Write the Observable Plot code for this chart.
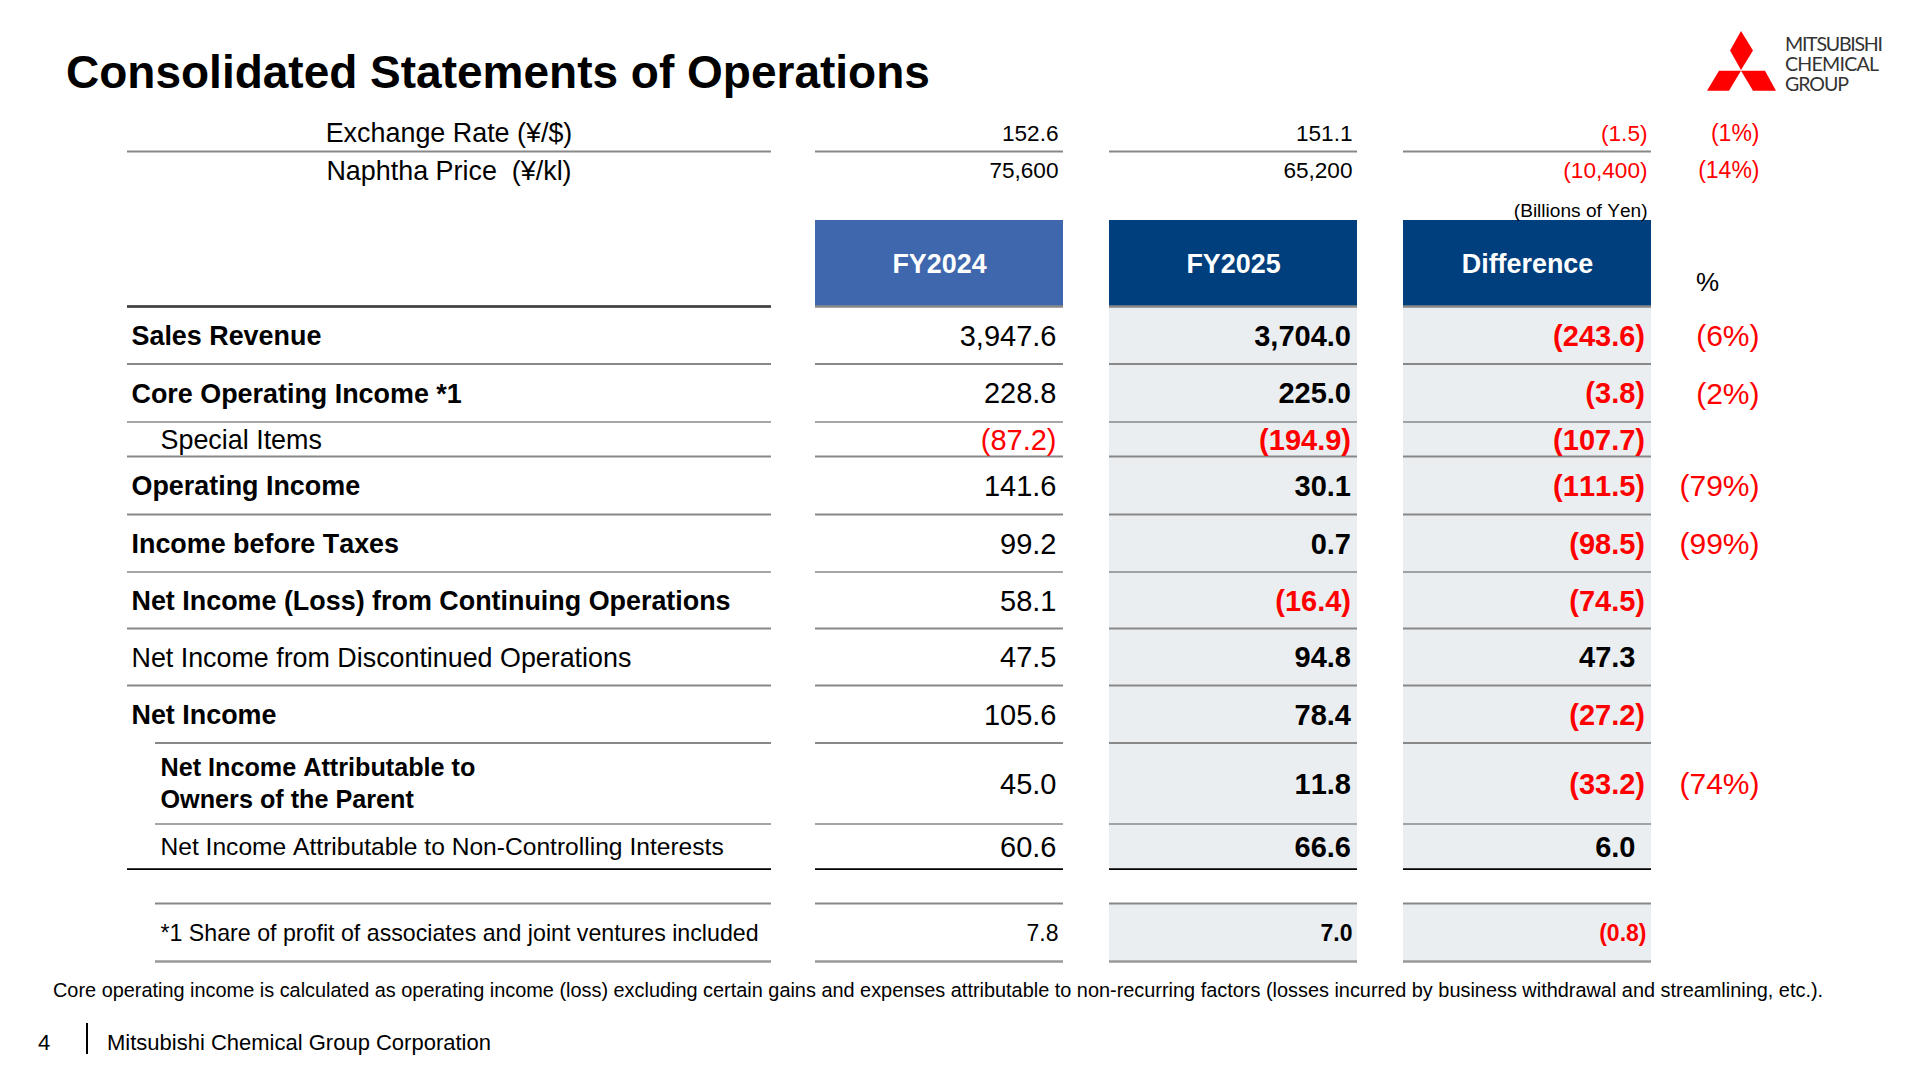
<!DOCTYPE html>
<html><head><meta charset="utf-8">
<script src="https://cdn.jsdelivr.net/npm/d3@7"></script>
<script src="https://cdn.jsdelivr.net/npm/@observablehq/plot@0.6"></script>
<style>
html,body{margin:0;padding:0;background:#fff;width:1920px;overflow:hidden}
body{font-family:"Liberation Sans",Arial,sans-serif;color:#000;font-kerning:none}
#head{position:relative;height:115px;width:1920px}
#head h1{position:absolute;left:66px;top:43.5px;margin:0;font-size:46px;line-height:56px;font-weight:700;white-space:nowrap}
#head svg{position:absolute;left:0;top:0}
#foot{position:relative;height:115px;width:1920px}
#note{position:absolute;left:53px;top:13px;font-size:19.9px;line-height:24px;white-space:nowrap}
#page{position:absolute;left:38px;top:65px;font-size:22px;line-height:26px}
#bar{position:absolute;left:86px;top:58px;width:2px;height:31px;background:#000}
#org{position:absolute;left:107px;top:65px;font-size:22px;line-height:26px;white-space:nowrap}
svg text{white-space:pre;font-kerning:none}
</style></head>
<body>
<div id="head">
<h1>Consolidated Statements of Operations</h1>
<svg width="1920" height="115" aria-label="logo">
<g fill="#ff0000"><polygon points="1741,31 1753,50.5 1741,70 1730,50.5"/><polygon points="1719,70.7 1741,70.7 1729,90.7 1707,90.7"/><polygon points="1741,70.7 1765,70.7 1776,90.7 1753,90.7"/></g>
<g fill="#333" font-family="Lato" font-size="19.6"><text x="1785" y="51" textLength="98">MITSUBISHI</text><text x="1785" y="71" textLength="94">CHEMICAL</text><text x="1785" y="91" textLength="64">GROUP</text></g>
</svg>
</div>
<div id="chart"></div>
<div id="foot">
<div id="note">Core operating income is calculated as operating income (loss) excluding certain gains and expenses attributable to non-recurring factors (losses incurred by business withdrawal and streamlining, etc.).</div>
<div id="page">4</div><div id="bar"></div>
<div id="org">Mitsubishi Chemical Group Corporation</div>
</div>
<script>
// ---- data ----
const columns = ["FY2024", "FY2025", "Difference"];
const marketLabels = ["Exchange Rate (¥/$)", "Naphtha Price  (¥/kl)"];
const market2024 = [152.6, 75600];
const market2025 = [151.1, 65200];
const marketDiff = [-1.5, -10400];
const marketPct = [-1, -14];

const rowLabels = [
  "Sales Revenue", "Core Operating Income *1", "Special Items", "Operating Income",
  "Income before Taxes", "Net Income (Loss) from Continuing Operations",
  "Net Income from Discontinued Operations", "Net Income",
  "Net Income Attributable to\nOwners of the Parent",
  "Net Income Attributable to Non-Controlling Interests"
];
const boldRows = [0, 1, 3, 4, 5, 7];
const plainRows = [6];
const fy2024 = [3947.6, 228.8, -87.2, 141.6, 99.2, 58.1, 47.5, 105.6, 45.0, 60.6];
const fy2025 = [3704.0, 225.0, -194.9, 30.1, 0.7, -16.4, 94.8, 78.4, 11.8, 66.6];
const difference = [-243.6, -3.8, -107.7, -111.5, -98.5, -74.5, 47.3, -27.2, -33.2, 6.0];
const percent = [-6, -2, null, -79, -99, null, null, null, -74, null];

const noteLabel = "*1 Share of profit of associates and joint ventures included";
const noteValues = [7.8, 7.0, -0.8];

// ---- layout: piecewise scales; domain = edge index, range = pixels ----
const xEdges = [127, 155, 771, 815, 1063, 1109, 1357, 1403, 1651, 1759];
const yEdges = [0, 36, 75, 86, 105, 191, 248.5, 306.5, 341, 399, 456.5, 513, 570, 627.5, 708.5, 753.6, 788, 846];
const svgHeight = 850;

const RED = "#ff0000", BLUE = "#003f7d", MID = "#3e67ad", PALE = "#ebeef1", GREY = "#888888";
const parens = (d, s) => (d < 0 ? `(${s})` : s);
const f1 = (d) => parens(d, d3.format(",.1f")(Math.abs(d)));
const marketFmt = (d) => parens(d, d3.format(Number.isInteger(d) ? ",d" : ",.1f")(Math.abs(d)));
const pctFmt = (d) => (d < 0 ? `(${-d}%)` : `${d}%`);
const ink = (d) => (d < 0 ? RED : "#000");
const rowMid = (i) => 5.5 + i;
const spans = [[0, 2], [3, 4], [5, 6], [7, 8]];

function ruleAt(y, from, stroke, strokeWidth, cols = spans) {
  const data = cols.map(([a, b], k) => ({ a: k === 0 ? from : a, b, y }));
  return Plot.ruleY(data, { y: "y", x1: "a", x2: "b", stroke, strokeWidth });
}
function values(list, x, dx, opts = {}) {
  const rows = list.map((v, i) => ({ v, i })).filter((d) => d.v != null);
  return Plot.text(rows, {
    x: () => x, y: (d) => rowMid(d.i), text: (d) => f1(d.v), fill: (d) => ink(d.v),
    textAnchor: "end", dx, dy: 1, fontSize: 29, ...opts
  });
}
function small(list, fmtf, x, dx, fontSize = 22.6) {
  return Plot.text(list, {
    x: () => x, y: (d, i) => i + 0.5, text: fmtf, fill: ink, textAnchor: "end", dx, fontSize
  });
}
const label = (rows, x, dx, opts) =>
  Plot.text(rows, { x: () => x, y: rowMid, dx, dy: 1, text: (i) => rowLabels[i], textAnchor: "start", fill: "#000", ...opts });

const chart = Plot.plot({
  width: 1920, height: svgHeight, margin: 0,
  style: { fontFamily: '"Liberation Sans", Arial, sans-serif', background: "#fff", color: "#000" },
  x: { type: "linear", domain: d3.range(xEdges.length), range: xEdges, axis: null },
  y: { type: "linear", domain: d3.range(yEdges.length), range: yEdges, axis: null },
  color: { type: "identity" },
  marks: [
    // cell shading
    Plot.rect([5, 7], { x1: (d) => d, x2: (d) => d + 1, y1: () => 5, y2: () => 15, fill: PALE }),
    Plot.rect([5, 7], { x1: (d) => d, x2: (d) => d + 1, y1: () => 16, y2: () => 17, fill: PALE }),
    // column headers
    Plot.rect(columns, { x1: (d, i) => 3 + 2 * i, x2: (d, i) => 4 + 2 * i, y1: () => 4, y2: () => 5,
      fill: (d, i) => (i === 0 ? MID : BLUE) }),
    Plot.text(columns, { x: (d, i) => 3.5 + 2 * i, y: () => 4.5, dy: 1, text: (d) => d, fill: "#fff",
      fontSize: 26.9, fontWeight: "bold" }),
    Plot.text(["%"], { x: () => 9, y: () => 4.72, dx: -52, text: (d) => d, fontSize: 26, fill: "#000", textAnchor: "middle" }),
    Plot.text(["(Billions of Yen)"], { x: () => 8, y: () => 3.5, dx: -4, text: (d) => d, fontSize: 19.1, fill: "#000", textAnchor: "end" }),

    // rules
    ruleAt(1, 0, GREY, 1.8),
    ruleAt(5, 0, GREY, 2.5),
    Plot.ruleY([5], { x1: () => 0, x2: () => 2, stroke: "#404040", strokeWidth: 2.5 }),
    ruleAt(6, 0, GREY, 1.8), ruleAt(7, 0, GREY, 1.5), ruleAt(8, 0, GREY, 1.8),
    ruleAt(9, 0, GREY, 1.8), ruleAt(10, 0, GREY, 1.5), ruleAt(11, 0, GREY, 1.8),
    ruleAt(12, 0, GREY, 1.8), ruleAt(13, 1, GREY, 1.8), ruleAt(14, 1, GREY, 1.5),
    ruleAt(15, 0, "#000", 1.8), ruleAt(16, 1, GREY, 1.8), ruleAt(17, 1, "#999", 2.5),

    // market rows
    Plot.text(marketLabels, { x: () => 1, y: (d, i) => i + 0.5, dx: 293.5, text: (d) => d, fontSize: 26.9, fill: "#000" }),
    small(market2024, marketFmt, 4, -5),
    small(market2025, marketFmt, 6, -5),
    small(marketDiff, marketFmt, 8, -4),
    small(marketPct, pctFmt, 9, 0, 23),

    // row labels
    label(boldRows, 0, 4, { fontSize: 26.9, fontWeight: "bold" }),
    label(plainRows, 0, 4, { fontSize: 26.85 }),
    label([2], 1, 5, { fontSize: 26.9 }),
    label([8], 1, 5, { dy: -1.5, fontSize: 25.2, fontWeight: "bold", lineHeight: 1.27 }),
    label([9], 1, 5, { fontSize: 24.6 }),

    // main values
    values(fy2024, 4, -7),
    values(fy2025, 6, -6.5, { fontWeight: "bold" }),
    values(difference.map((d) => (d < 0 ? d : null)), 8, -6.5, { fontWeight: "bold" }),
    values(difference.map((d) => (d >= 0 ? d : null)), 8, -16, { fontWeight: "bold" }),
    values(percent, 9, 0, { text: (d) => pctFmt(d.v), fontSize: 30 }),

    // share-of-profit row
    Plot.text([noteLabel], { x: () => 1, y: () => 16.5, dx: 5, dy: 1, text: (d) => d, textAnchor: "start", fill: "#000", fontSize: 23.2 }),
    Plot.text(noteValues.slice(0, 1), { x: () => 4, y: () => 16.5, dx: -5, dy: 1, text: f1, fill: ink, textAnchor: "end", fontSize: 23 }),
    Plot.text(noteValues.slice(1, 2), { x: () => 6, y: () => 16.5, dx: -5, dy: 1, text: f1, fill: ink, textAnchor: "end", fontSize: 23, fontWeight: "bold" }),
    Plot.text(noteValues.slice(2), { x: () => 8, y: () => 16.5, dx: -5, dy: 1, text: f1, fill: ink, textAnchor: "end", fontSize: 23, fontWeight: "bold" })
  ]
});
document.getElementById("chart").appendChild(chart);
</script>
</body></html>
